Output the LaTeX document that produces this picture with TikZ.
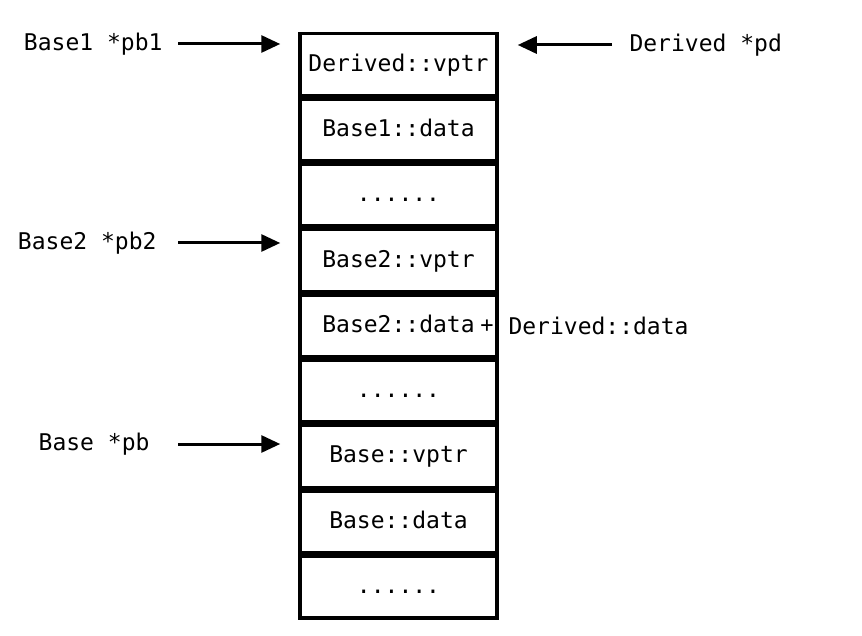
\documentclass[tikz,border=0pt]{standalone}
\usepackage{fontspec}
\setmonofont{DejaVu Sans Mono}
\usetikzlibrary{arrows.meta,positioning,calc}
\newcommand{\dotrow}{......}

\begin{document}
\begin{tikzpicture}[x=1pt, y=-1pt, >={Triangle[length=19pt,width=17pt]},
    font=\ttfamily\fontsize{23}{28}\selectfont]
  \useasboundingbox (0,0) rectangle (862,636);
  \tikzset{
    cell/.style={draw, line width=3.5pt, minimum width=197pt, minimum height=62pt,
      inner sep=0pt, text height=1.3em, text depth=0pt},
    ptr/.style={->, line width=3pt, shorten >=18pt}
  }
  % memory cells
  \foreach \txt [count=\i] in {Derived::vptr, Base1::data, \dotrow,
      Base2::vptr, Base2::data, \dotrow, Base::vptr, Base::data, \dotrow}
    \node[cell] (c\i) at (398.5, {32+65.3*(\i-0.5)}) {\txt};
  % pointers on the left
  \coordinate (ax) at (178,0);
  \node[anchor=east] (pb1) at (166,44) {Base1 *pb1};
  \node[anchor=east] (pb2) at (160,243) {Base2 *pb2};
  \node[anchor=east] (pb) at (153,444) {Base *pb};
  \draw[ptr] (ax |- pb1.east) -- (c1.west |- pb1.east);
  \draw[ptr] (ax |- pb2.east) -- (c4.west |- pb2.east);
  \draw[ptr] (ax |- pb.east) -- (c7.west |- pb.east);
  % pointer on the right
  \node[anchor=west] (pd) at (626,45) {Derived *pd};
  \draw[->, line width=3pt, shorten <=14pt, shorten >=19pt] (pd.west) -- (c1.east |- pd.west);
  % derived data
  \node[font=\ttfamily\fontsize{22}{24}\selectfont] (plus) at (487,326) {+};
  \node[anchor=west] (dd) at (505,326) {Derived::data};
\end{tikzpicture}
\end{document}
